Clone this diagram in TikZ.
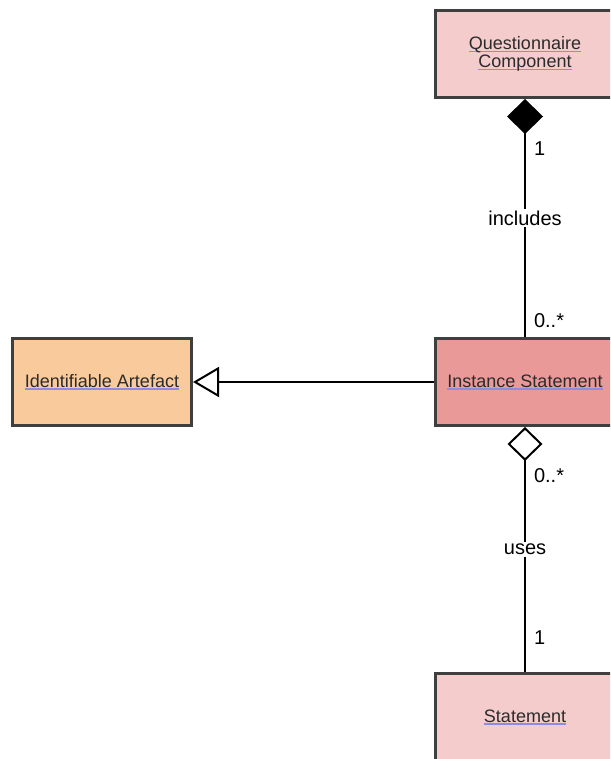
\documentclass[tikz,border=0pt]{standalone}
\usepackage{fontspec}
\setmainfont{Liberation Sans}
\usepackage{xcolor}
\usetikzlibrary{arrows.meta,positioning}
\definecolor{umlpink}{HTML}{F4CCCC}
\definecolor{umlred}{HTML}{EA9999}
\definecolor{umlorange}{HTML}{F9CB9C}
\definecolor{umlborder}{HTML}{3F3F3F}
\definecolor{umltext}{HTML}{2B2B2B}
\definecolor{ulblue}{HTML}{8C8CE6}
\newcommand{\objname}[1]{\setbox0\hbox{#1}\leavevmode\rlap{\color{ulblue}\rule[-2.5pt]{\wd0}{1.3pt}}\box0}

\begin{document}
\begin{tikzpicture}[
    x=1pt, y=-1pt,
    node distance=241pt,
    obj/.style={rectangle, draw=umlborder, line width=3pt, text=umltext,
                minimum width=179pt, minimum height=87pt, align=center,
                font=\fontsize{18}{19}\selectfont},
    link/.style={line width=2pt, color=black},
    lbl/.style={fill=white, inner sep=2pt, text=black,
                font=\fontsize{20}{22}\selectfont},
    mult/.style={right, inner sep=0pt, xshift=8pt, text=black,
                 font=\fontsize{20}{22}\selectfont}
  ]
    \useasboundingbox (0,0) rectangle (610,759);
    \clip (0,0) rectangle (610,759);

    \node[obj, fill=umlred] (inst) at (525,382) {\objname{Instance Statement}};

    \node[obj, fill=umlpink, above=238pt of inst] (qcomp)
      {\objname{Questionnaire}\\[-1pt]\objname{Component}};

    \node[obj, fill=umlorange, left=of inst] (ident)
      {\objname{Identifiable Artefact}};

    \node[obj, fill=umlpink, below=245pt of inst] (stmt)
      {\objname{Statement}};

    \draw[link, {Diamond[length=35pt, width=36pt, fill=black]}-] (qcomp) --
      node[mult, pos=0.21] {1}
      node[lbl] {includes}
      node[mult, pos=0.93] {0..*} (inst);
    \draw[link, -{Triangle[open, length=26pt, width=30pt, fill=white]}] (inst) -- (ident);
    \draw[link, {Diamond[open, length=34pt, width=35pt, fill=white]}-] (inst) --
      node[mult, pos=0.2] {0..*}
      node[lbl] {uses}
      node[mult, pos=0.86] {1} (stmt);
\end{tikzpicture}
\end{document}
